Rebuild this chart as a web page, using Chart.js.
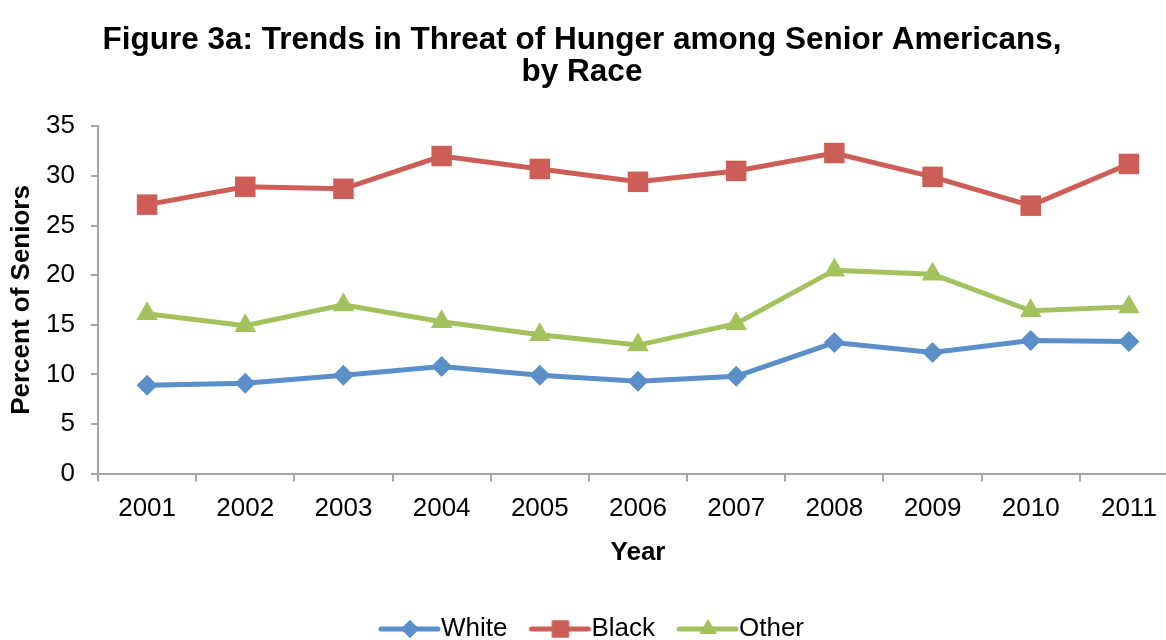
<!DOCTYPE html>
<html>
<head>
<meta charset="utf-8">
<script src="https://cdn.jsdelivr.net/npm/chart.js@4.4.1/dist/chart.umd.min.js"></script>
<style>
  html, body { margin: 0; padding: 0; background: #fff; overflow: hidden; }
  #wrap { width: 1180px; height: 652px; }
</style>
</head>
<body>
<div id="wrap"><canvas id="trendChart" width="1180" height="652"></canvas></div>
<script>
// data
var years = ['2001', '2002', '2003', '2004', '2005', '2006', '2007', '2008', '2009', '2010', '2011'];
var white = [8.9, 9.1, 9.9, 10.8, 9.9, 9.3, 9.8, 13.2, 12.2, 13.4, 13.3];
var black = [27.1, 28.9, 28.7, 32.0, 30.7, 29.4, 30.5, 32.3, 29.9, 27.0, 31.2];
var other = [16.1, 14.9, 17.0, 15.3, 14.0, 12.95, 15.1, 20.5, 20.1, 16.4, 16.8];

var FONT = "'Liberation Sans', Arial, sans-serif";
var blue = '#5B8FCA';
var red = '#CD5E57';
var green = '#A3C25E';
var axisGrey = '#A6A6A6';

// small line + marker picture for the legend
function legendIcon(color, style, r)
{
    var c = document.createElement('canvas');
    c.width = 76;
    c.height = 30;
    var ctx = c.getContext('2d');
    ctx.strokeStyle = color;
    ctx.lineWidth = 5;
    ctx.lineCap = 'round';
    ctx.beginPath();
    ctx.moveTo(7, 15);
    ctx.lineTo(64, 15);
    ctx.stroke();
    ctx.fillStyle = color;
    Chart.helpers.drawPoint(ctx, { pointStyle: style, radius: r, rotation: 0, borderWidth: 0 }, 36, 15);
    ctx.fill();
    return c;
}

// nudge title / legend boxes sideways to sit like the original
var nudge = {
    id: 'nudge',
    afterLayout: function (chart) {
        chart.titleBlock.left -= 10;
        chart.titleBlock.right -= 10;
        chart.legend.left += 8;
        chart.legend.right += 8;
    }
};

var datasets = [{
    label: 'White',
    data: white,
    borderColor: blue,
    backgroundColor: blue,
    pointStyle: 'rectRot',
    pointRadius: 10.5,
    icon: ['rectRot', 9]
}, {
    label: 'Black',
    data: black,
    borderColor: red,
    backgroundColor: red,
    pointStyle: 'rect',
    pointRadius: 14.5,
    icon: ['rect', 12]
}, {
    label: 'Other',
    data: other,
    borderColor: green,
    backgroundColor: green,
    pointStyle: 'triangle',
    pointRadius: 12.5,
    icon: ['triangle', 10]
}];

datasets.forEach(function (ds) {
    ds.borderWidth = 5;
    ds.pointBorderWidth = 0;
    ds.pointHoverRadius = ds.pointRadius;
    ds.tension = 0;
    ds.fill = false;
    ds.clip = false;
});

var chart = new Chart(document.getElementById('trendChart'), {
    type: 'line',
    data: { labels: years, datasets: datasets },
    plugins: [nudge],
    options: {
        responsive: false,
        devicePixelRatio: 1,
        animation: false,
        layout: { autoPadding: false, padding: { left: 6, right: 2, top: 0, bottom: 0 } },
        plugins: {
            title: {
                display: true,
                text: ['Figure 3a: Trends in Threat of Hunger among Senior Americans,', 'by Race'],
                color: '#000',
                font: { family: FONT, size: 31.5, weight: 'bold', lineHeight: 1.02 },
                padding: { top: 24, bottom: 38 }
            },
            legend: {
                display: true,
                position: 'bottom',
                labels: {
                    usePointStyle: true,
                    pointStyleWidth: 32,
                    color: '#000',
                    padding: 39,
                    font: { family: FONT, size: 26 },
                    generateLabels: function (c) {
                        return c.data.datasets.map(function (ds, i) {
                            return {
                                text: ds.label,
                                pointStyle: legendIcon(ds.borderColor, ds.icon[0], ds.icon[1]),
                                fillStyle: ds.borderColor,
                                strokeStyle: ds.borderColor,
                                lineWidth: 0,
                                fontColor: '#000',
                                datasetIndex: i,
                                hidden: false
                            };
                        });
                    }
                }
            },
            tooltip: { enabled: false }
        },
        scales: {
            x: {
                offset: true,
                grid: {
                    display: true,
                    offset: true,
                    drawOnChartArea: false,
                    drawTicks: true,
                    tickLength: 8,
                    color: axisGrey,
                    lineWidth: 2
                },
                border: { display: true, color: axisGrey, width: 2 },
                ticks: {
                    color: '#000',
                    padding: 12,
                    maxRotation: 0,
                    font: { family: FONT, size: 26 }
                },
                title: {
                    display: true,
                    text: 'Year',
                    color: '#000',
                    font: { family: FONT, size: 26, weight: 'bold' },
                    padding: { top: 0, bottom: 9 }
                }
            },
            y: {
                min: 0,
                max: 35,
                afterFit: function (scale) {
                    scale.width = 92;
                },
                grid: {
                    display: true,
                    drawOnChartArea: false,
                    drawTicks: true,
                    tickLength: 7,
                    color: axisGrey,
                    lineWidth: 2
                },
                border: { display: true, color: axisGrey, width: 2 },
                ticks: {
                    stepSize: 5,
                    color: '#000',
                    padding: 16,
                    font: { family: FONT, size: 26 }
                },
                title: {
                    display: true,
                    text: 'Percent of Seniors',
                    color: '#000',
                    font: { family: FONT, size: 26, weight: 'bold' },
                    padding: { top: 0, bottom: 7 }
                }
            }
        }
    }
});
</script>
</body>
</html>
